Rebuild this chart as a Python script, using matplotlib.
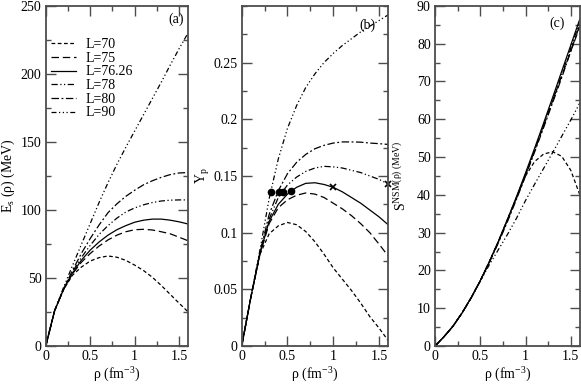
import numpy as np
import matplotlib
matplotlib.use("Agg")
import matplotlib.pyplot as plt
from matplotlib.ticker import MultipleLocator, FuncFormatter

plt.rcParams['font.family'] = ['Liberation Serif', 'DejaVu Serif']
plt.rcParams['mathtext.fontset'] = 'custom'
plt.rcParams['mathtext.rm'] = 'Liberation Serif'
plt.rcParams['mathtext.it'] = 'Liberation Serif:italic'
plt.rcParams['font.size'] = 10

# density grid (fm^-3)
rho = [0, 0.1, 0.2, 0.3, 0.4, 0.5, 0.6, 0.7, 0.8, 0.9, 1.0, 1.1, 1.2, 1.3, 1.4, 1.5, 1.6]
labels = ['L=70', 'L=75', 'L=76.26', 'L=78', 'L=80', 'L=90']

# (a) symmetry energy E_s(rho) in MeV
es_70 = [0, 26, 41.5, 52, 58, 62.5, 65, 66.2, 65.3, 63, 59.5, 55.5, 50.5, 44.5, 38, 31.5, 25.2]
es_75 = [0, 26, 41.5, 53, 61.5, 68, 73.5, 78, 81.5, 84, 85.5, 85.8, 85.3, 84, 82.5, 80, 77.4]
es_7626 = [0, 26, 41.5, 53.5, 63, 70.5, 76.5, 81.5, 85.5, 88.5, 91, 92.5, 93.3, 93.3, 92.5, 91.3, 89.7]
es_78 = [0, 26, 42, 54.5, 65, 74, 82, 88.5, 94, 98.5, 101.5, 103.8, 105.5, 106.6, 107.2, 107.4, 107.4]
es_80 = [0, 26, 42, 55.5, 68, 79, 89, 98, 104.5, 110, 114.5, 118.5, 121.5, 124, 126, 127.2, 127.5]
es_90 = [0, 26, 43, 59, 74.5, 90, 105.5, 120, 133.5, 146, 158, 170, 182, 194, 206.5, 218.5, 230]

# (b) proton fraction Y_p
yp_70 = [0, 0.043, 0.081, 0.099, 0.106, 0.109, 0.107, 0.101, 0.092, 0.081, 0.069, 0.059, 0.049, 0.038, 0.026, 0.016, 0.005]
yp_75 = [0, 0.043, 0.081, 0.108, 0.122, 0.129, 0.133, 0.135, 0.134, 0.131, 0.126, 0.121, 0.115, 0.108, 0.100, 0.090, 0.0795]
yp_7626 = [0, 0.043, 0.082, 0.110, 0.125, 0.134, 0.140, 0.1435, 0.144, 0.1425, 0.140, 0.136, 0.131, 0.126, 0.120, 0.114, 0.107]
yp_78 = [0, 0.043, 0.082, 0.112, 0.131, 0.142, 0.149, 0.154, 0.157, 0.1585, 0.158, 0.157, 0.155, 0.153, 0.150, 0.147, 0.143]
yp_80 = [0, 0.043, 0.083, 0.116, 0.137, 0.152, 0.162, 0.169, 0.174, 0.177, 0.179, 0.180, 0.180, 0.1798, 0.179, 0.1785, 0.1778]
yp_90 = [0, 0.043, 0.085, 0.130, 0.165, 0.192, 0.212, 0.228, 0.240, 0.250, 0.258, 0.265, 0.271, 0.277, 0.282, 0.287, 0.292]
dot_rho = [0.317, 0.408, 0.448, 0.539]
dot_yp = [0.136, 0.136, 0.136, 0.137]
cross_rho = [1.0, 1.6]
cross_yp = [0.140, 0.143]

# (c) S^NSM(rho) in MeV
s_70 = [0, 2.5, 5.3, 8.8, 12.8, 17.3, 22.3, 27.7, 33.5, 39.3, 45.0, 48.8, 50.8, 51.4, 50.2, 46.5, 40.0]
s_75 = [0, 2.5, 5.3, 8.8, 12.8, 17.3, 22.3, 27.6, 33.3, 39.2, 45.3, 51.7, 58.3, 64.9, 71.5, 78.0, 84.5]
s_7626 = [0, 2.5, 5.3, 8.8, 12.8, 17.3, 22.3, 27.7, 33.5, 39.5, 45.8, 52.3, 59.0, 65.8, 72.7, 79.6, 86.5]
s_78 = [0, 2.5, 5.3, 8.8, 12.8, 17.3, 22.2, 27.5, 33.2, 39.2, 45.3, 51.7, 58.3, 65.0, 71.8, 78.8, 85.8]
s_80 = [0, 2.5, 5.3, 8.8, 12.8, 17.2, 22.1, 27.3, 32.9, 38.8, 45.0, 51.3, 57.8, 64.4, 71.0, 78.0, 85.0]
s_90 = [0, 2.5, 5.3, 8.8, 12.8, 17.2, 21.5, 25.5, 29.5, 33.8, 38.5, 42.8, 47.0, 51.2, 55.5, 59.8, 64.3]

styles = [(0, (3, 2)), (0, (6, 3)), '-', (0, (5, 2, 1, 2, 1, 2)), (0, (6, 2, 1.5, 2)), (0, (4, 2, 1, 2, 1, 2, 1, 2))]

fig = plt.figure(figsize=(5.81, 3.88), dpi=100)
bottom, top = 0.108, 0.985
ax_a = fig.add_axes([0.0787, bottom, 0.3236 - 0.0787, top - bottom])
ax_b = fig.add_axes([0.416, bottom, 0.668 - 0.416, top - bottom])
ax_c = fig.add_axes([0.7487, bottom, 0.998 - 0.7487, top - bottom])

fmt = FuncFormatter(lambda v, p: '%g' % round(v, 4))

for ys, ls, lab in zip([es_70, es_75, es_7626, es_78, es_80, es_90], styles, labels):
    ax_a.plot(rho, ys, color='k', lw=0.9, linestyle=ls, label=lab)
for ys, ls in zip([yp_70, yp_75, yp_7626, yp_78, yp_80, yp_90], styles):
    ax_b.plot(rho, ys, color='k', lw=0.9, linestyle=ls)
ax_b.plot(dot_rho, dot_yp, 'o', color='k', ms=4.5, clip_on=False)
ax_b.plot(cross_rho, cross_yp, 'x', color='k', ms=4.5, mew=1.2, clip_on=False)
for ys, ls in zip([s_70, s_75, s_7626, s_78, s_80, s_90], styles):
    ax_c.plot(rho, ys, color='k', lw=0.9, linestyle=ls)

ax_a.set_ylim(0, 250)
ax_a.yaxis.set_major_locator(MultipleLocator(50))
ax_a.yaxis.set_minor_locator(MultipleLocator(25))
ax_b.set_ylim(0, 0.3)
ax_b.set_yticks([0, 0.05, 0.1, 0.15, 0.2, 0.25])
ax_b.yaxis.set_minor_locator(MultipleLocator(0.025))
ax_c.set_ylim(0, 90)
ax_c.yaxis.set_major_locator(MultipleLocator(10))
ax_c.yaxis.set_minor_locator(MultipleLocator(5))

for ax, tag, tx, ty in [(ax_a, '(a)', 0.916, 0.96), (ax_b, '(b)', 0.856, 0.944), (ax_c, '(c)', 0.845, 0.95)]:
    ax.set_xlim(0, 1.6)
    ax.xaxis.set_major_locator(MultipleLocator(0.5))
    ax.xaxis.set_minor_locator(MultipleLocator(0.25))
    ax.xaxis.set_major_formatter(fmt)
    ax.yaxis.set_major_formatter(fmt)
    ax.tick_params(which='both', direction='in', top=True, right=True, color='0.3', labelsize=10, pad=3)
    ax.tick_params(which='major', length=7, width=1)
    ax.tick_params(which='minor', length=3.5, width=1)
    for sp in ax.spines.values():
        sp.set_color('0.3')
        sp.set_linewidth(1.3)
    ax.set_xlabel('ρ (fm$^{-3}$)', labelpad=2)
    ax.text(tx, ty, tag, transform=ax.transAxes, ha='center', va='center', fontsize=10)

ax_a.set_ylabel('E$_{\\rm s}$ (ρ) (MeV)')
ax_a.yaxis.set_label_coords(-0.2, 0.5)
ax_b.set_ylabel('Y$_{\\rm p}$')
ax_b.yaxis.set_label_coords(-0.2, 0.5)
ax_c.set_ylabel('S$^{\\rm NSM(\\rho)\\ (MeV)}$')
ax_c.yaxis.set_label_coords(-0.18, 0.5)

ax_a.legend(loc='upper left', bbox_to_anchor=(-0.02, 0.93), frameon=False, fontsize=10,
            handlelength=1.8, handletextpad=0.7, labelspacing=0.05, borderaxespad=0.2)

fig.savefig('out.png', dpi=100)
